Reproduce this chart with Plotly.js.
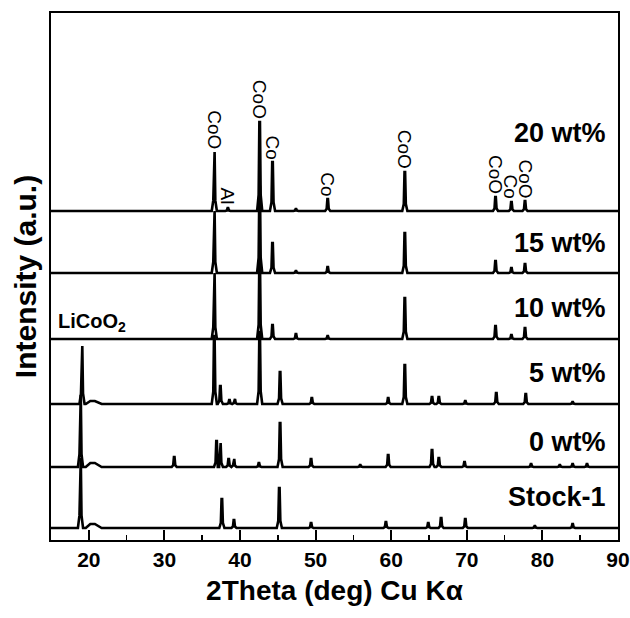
<!DOCTYPE html>
<html>
<head>
<meta charset="utf-8">
<script src="https://cdn.plot.ly/plotly-3.0.1.min.js"></script>
<style>html,body{margin:0;padding:0;background:#fff;}#chart{width:630px;height:618px;}</style>
</head>
<body>
<div id="chart"></div>
<script>
// ---- Data (2θ in degrees, intensity in arbitrary units) ----
const sampleNames = ["Stock-1", "0 wt%", "5 wt%", "10 wt%", "15 wt%", "20 wt%"];

const stockPeakPos = [18.9, 37.6, 39.2, 45.2, 49.4, 59.3, 64.9, 66.6, 69.8, 79.0, 84.0];
const stockPeakInt = [70, 29, 8, 40, 5, 6, 5, 10, 9, 2, 4];
const stockHumpPos = [20.5];
const stockHumpInt = [4];

const wt0PeakPos = [18.9, 31.3, 36.9, 37.4, 38.5, 39.2, 42.5, 45.3, 49.4, 55.9, 59.6, 65.4, 66.3, 69.7, 78.5, 82.3, 84.0, 85.9];
const wt0PeakInt = [72, 10, 26, 24, 8, 8, 4, 44, 8, 2, 12, 17, 9, 5, 3, 2, 3, 3];
const wt0HumpPos = [20.5];
const wt0HumpInt = [4];

const wt5PeakPos = [19.1, 36.6, 37.4, 38.6, 39.3, 42.6, 45.3, 49.5, 59.6, 61.8, 65.4, 66.3, 69.8, 73.9, 77.8, 84.0];
const wt5PeakInt = [58, 68, 18, 4, 5, 72, 32, 6, 6, 39, 7, 7, 3, 11, 10, 2];
const wt5HumpPos = [20.5];
const wt5HumpInt = [3];

const wt10PeakPos = [36.6, 42.6, 44.3, 47.4, 51.6, 61.8, 73.8, 75.9, 77.7];
const wt10PeakInt = [66, 80, 14, 5, 3, 41, 13, 4, 11];

const wt15PeakPos = [36.6, 42.6, 44.3, 47.4, 51.6, 61.8, 73.8, 75.9, 77.7];
const wt15PeakInt = [62, 86, 30, 2, 6, 40, 12, 5, 9];

const wt20PeakPos = [36.6, 38.4, 42.6, 44.3, 47.4, 51.6, 61.8, 73.8, 75.9, 77.7];
const wt20PeakInt = [59, 3, 89, 49, 2, 12, 39, 14, 9, 10];

// phase labels on the 20 wt% pattern
const phaseLabels = ["CoO", "Al", "CoO", "Co", "Co", "CoO", "CoO", "Co", "CoO"];
const phasePos    = [36.6, 38.4, 42.6, 44.3, 51.6, 61.8, 73.8, 75.9, 77.7];

const xTickVals = [20, 30, 40, 50, 60, 70, 80, 90];
const xTickText = ["20", "30", "40", "50", "60", "70", "80", "90"];

// ---- Layout helpers (stacking offsets, not data) ----
const offsets = [12, 73, 136, 201, 267, 329];
const labelY  = [43, 98, 167, 232, 297, 407];
const X_MIN = 15, X_MAX = 90;
const PEAK_HALF_BASE = 0.34;

function buildPattern(pos, inten, humpPos, humpInt) {
  const pts = [];
  pos.forEach((p, i) => {
    const h = inten[i];
    const w = PEAK_HALF_BASE;
    pts.push([p - w, 0], [p - w * 0.4, h * 0.18], [p - 0.04, h], [p + 0.04, h], [p + w * 0.4, h * 0.18], [p + w, 0]);
  });
  (humpPos || []).forEach((p, i) => {
    const h = humpInt[i];
    pts.push([p - 0.9, 0], [p - 0.3, h], [p + 0.3, h], [p + 1.2, 0]);
  });
  pts.push([X_MIN, 0], [X_MAX, 0]);
  pts.sort((a, b) => a[0] - b[0]);
  return pts;
}

const patterns = [
  buildPattern(stockPeakPos, stockPeakInt, stockHumpPos, stockHumpInt),
  buildPattern(wt0PeakPos, wt0PeakInt, wt0HumpPos, wt0HumpInt),
  buildPattern(wt5PeakPos, wt5PeakInt, wt5HumpPos, wt5HumpInt),
  buildPattern(wt10PeakPos, wt10PeakInt),
  buildPattern(wt15PeakPos, wt15PeakInt),
  buildPattern(wt20PeakPos, wt20PeakInt)
];

const traces = patterns.map((pts, k) => ({
  type: "scatter",
  mode: "lines",
  name: sampleNames[k],
  x: pts.map(p => p[0]),
  y: pts.map(p => p[1] + offsets[k]),
  line: {color: "#000", width: 2.6, shape: "linear"},
  hoverinfo: "skip",
  showlegend: false
}));

const FONT = "Liberation Sans, Arial, sans-serif";
const annotations = [];

sampleNames.forEach((n, k) => {
  annotations.push({
    x: 88.7, y: labelY[k], xref: "x", yref: "y",
    text: "<b>" + n + "</b>", showarrow: false,
    xanchor: "right", yanchor: "middle",
    font: {family: FONT, size: 27, color: "#000"}
  });
});

phaseLabels.forEach((t, i) => {
  const idx = wt20PeakPos.indexOf(phasePos[i]);
  annotations.push({
    x: phasePos[i], y: wt20PeakInt[idx] + offsets[5], xref: "x", yref: "y",
    text: t, showarrow: false, textangle: 90,
    xanchor: "center", yanchor: "bottom", yshift: 1,
    font: {family: FONT, size: 19, color: "#000"}
  });
});

annotations.push({
  x: 15.7, y: 218, xref: "x", yref: "y",
  text: "<b>LiCoO<sub>2</sub></b>", showarrow: false,
  xanchor: "left", yanchor: "middle",
  font: {family: FONT, size: 20, color: "#000"}
});

const layout = {
  width: 630, height: 618,
  margin: {l: 51, r: 12, t: 13, b: 78},
  paper_bgcolor: "#fff", plot_bgcolor: "#fff",
  showlegend: false,
  xaxis: {
    range: [X_MIN, X_MAX],
    tickvals: xTickVals,
    ticktext: xTickText.map(t => "<b>" + t + "</b>"),
    ticks: "inside", ticklen: 10, tickwidth: 2, tickcolor: "#000",
    minor: {dtick: 5, ticks: "inside", ticklen: 5, tickwidth: 1.6, tickcolor: "#000", showgrid: false},
    showline: true, linecolor: "#000", linewidth: 2, mirror: true,
    showgrid: false, zeroline: false,
    tickfont: {family: FONT, size: 21, color: "#000", weight: 700},
    title: {text: "<b>2Theta (deg) Cu K\u03b1</b>", font: {family: FONT, size: 28, color: "#000"}, standoff: 10}
  },
  yaxis: {
    range: [0, 527],
    showticklabels: false, ticks: "",
    showline: true, linecolor: "#000", linewidth: 2, mirror: true,
    showgrid: false, zeroline: false,
    title: {text: "<b>Intensity (a.u.)</b>", font: {family: FONT, size: 30, color: "#000"}, standoff: 4}
  },
  annotations: annotations
};

Plotly.newPlot("chart", traces, layout, {staticPlot: true, displayModeBar: false});
</script>
</body>
</html>
